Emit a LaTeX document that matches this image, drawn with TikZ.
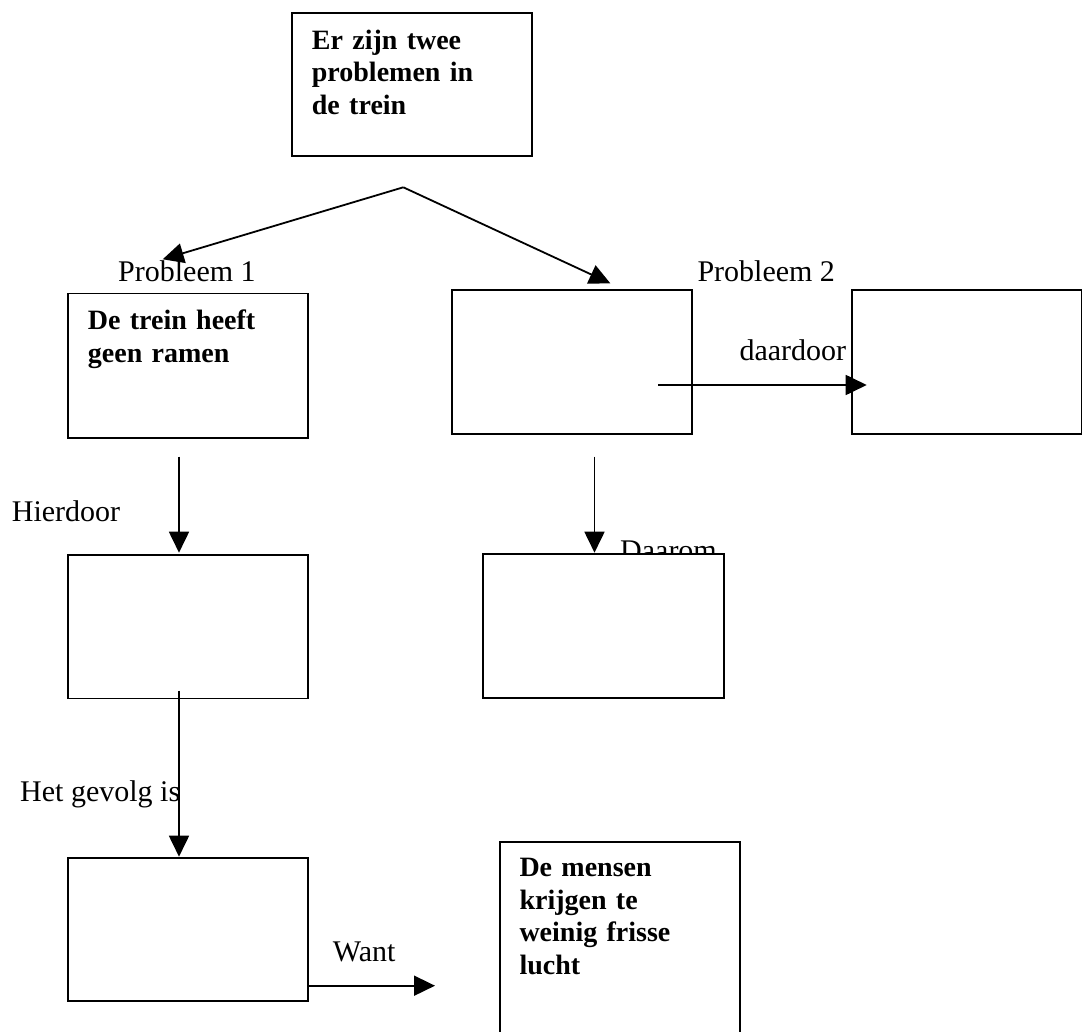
\documentclass[tikz,border=0pt]{standalone}
\usepackage{fontspec}
\setmainfont{Liberation Serif}
\usetikzlibrary{arrows.meta,calc}
\begin{document}
\begin{tikzpicture}[x=1pt,y=-1pt,
  box/.style={draw,line width=1.8pt,fill=white,anchor=north west,inner sep=0pt},
  boxtext/.style={anchor=base west,inner sep=0pt,text width=225pt,align=left,
    font=\fontsize{28}{32.6}\selectfont\bfseries},
  lbl/.style={anchor=base west,inner sep=0pt,font=\fontsize{30}{36}\selectfont},
  arr/.style={line width=1.8pt,-{Triangle[length=21pt,width=20pt]}}]
\useasboundingbox (0,0) rectangle (1082,1032);
\clip (0,0) rectangle (1082,1032);
% labels that are partly covered by boxes
\node[lbl] (ldaarom) at (620,560) {Daarom};
\node[lbl] (ldaardoor) at (739.3,360.7) {daardoor};
% boxes
\node[box,minimum width=240pt,minimum height=143pt] (top) at (291,12.3) {};
\node[box,minimum width=240.3pt,minimum height=144.3pt] (p1) at (66.7,292.7) {};
\node[box,minimum width=240.3pt,minimum height=143.7pt] (mid) at (450.7,289) {};
\node[box,minimum width=230.3pt,minimum height=143.4pt] (rb) at (850.7,289.3) {};
\node[box,minimum width=240pt,minimum height=143.5pt] (hb) at (66.7,554) {};
\node[box,minimum width=241pt,minimum height=143.4pt] (db) at (482.3,553.3) {};
\node[box,minimum width=240.6pt,minimum height=143.3pt] (gb) at (66.7,856.7) {};
\node[box,minimum width=240.6pt,minimum height=230pt] (fb) at (498.7,841) {};
% box texts
\node[boxtext] (ttop) at (311.7,49.3) {Er zijn twee\\problemen in\\de trein};
\node[boxtext] (tp1) at (87.7,330) {De trein heeft\\geen ramen};
\node[boxtext] (tfb) at (519.3,876.7) {De mensen\\krijgen te\\weinig frisse\\lucht};
% other labels
\node[lbl] (lp1) at (118,281.7) {Probleem 1};
\node[lbl] (lp2) at (697.3,281.7) {Probleem 2};
\node[lbl] (lhier) at (11.7,521) {Hierdoor};
\node[lbl] (lgevolg) at (20,801.7) {Het gevolg is};
\node[lbl] (lwant) at (332.7,961) {Want};
% connector points
\coordinate (fork) at (403.3,187.3);
\coordinate (t1) at (162.7,259.3);
\coordinate (t2) at (610.3,283.3);
\coordinate (dstart) at (658.3,385);
\coordinate (dend) at (866.7,385);
\coordinate (a1s) at (179,456.7);
\coordinate (a1e) at (179,552.7);
\coordinate (a2s) at (594.5,456.7);
\coordinate (a2e) at (594.5,552.7);
\coordinate (a3s) at (179,690.7);
\coordinate (a3e) at (179,856.7);
\coordinate (ws) at (307.3,985.7);
\coordinate (we) at (435,985.7);
% connectors
\draw[arr] (fork) -- (t1);
\draw[arr] (fork) -- (t2);
\draw[arr] (dstart) -- (dend);
\draw[arr] (a1s) -- (a1e);
\draw[arr] (a2s) -- (a2e);
\draw[arr] (a3s) -- (a3e);
\draw[arr] (ws) -- (we);
\end{tikzpicture}
\end{document}
